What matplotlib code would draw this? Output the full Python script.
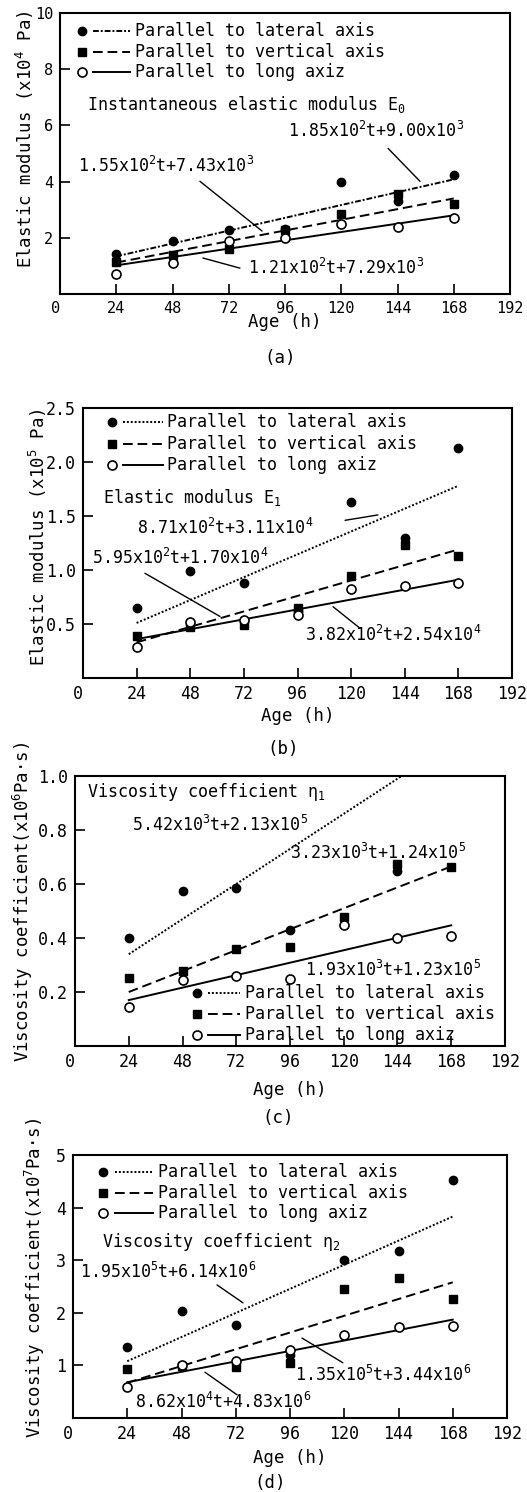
import matplotlib
matplotlib.use('Agg')
import numpy as np
import matplotlib.pyplot as plt

plt.rcParams['font.family'] = 'DejaVu Sans Mono'
plt.rcParams['mathtext.fontset'] = 'custom'
plt.rcParams['mathtext.rm'] = 'DejaVu Sans Mono'
plt.rcParams['mathtext.it'] = 'DejaVu Sans Mono'
plt.rcParams['mathtext.bf'] = 'DejaVu Sans Mono'

ages = [24, 48, 72, 96, 120, 144, 168]
fit_t = [24, 168]
x_ticks = [0, 24, 48, 72, 96, 120, 144, 168, 192]
series_names = ['Parallel to lateral axis', 'Parallel to vertical axis', 'Parallel to long axiz']

# (a) instantaneous elastic modulus E0 (x10^4 Pa)
a_lateral = [1.44, 1.90, 2.26, 2.30, 3.98, 3.30, 4.22]
a_vertical = [1.15, 1.38, 1.60, 2.27, 2.83, 3.56, 3.22]
a_long = [0.72, 1.11, 1.90, 1.98, 2.50, 2.39, 2.70]
a_fit_lateral = [1.34, 4.08]
a_fit_vertical = [1.12, 3.40]
a_fit_long = [1.02, 2.80]

# (b) elastic modulus E1 (x10^5 Pa)
b_lateral = [0.65, 0.99, 0.88, 0.62, 1.63, 1.30, 2.13]
b_vertical = [0.39, 0.47, 0.49, 0.65, 0.94, 1.23, 1.13]
b_long = [0.29, 0.52, 0.54, 0.58, 0.82, 0.85, 0.88]
b_fit_lateral = [0.51, 1.78]
b_fit_vertical = [0.33, 1.19]
b_fit_long = [0.36, 0.91]

# (c) viscosity coefficient eta1 (x10^6 Pa.s)
c_lateral = [0.40, 0.575, 0.586, 0.43, np.nan, 0.65, np.nan]
c_vertical = [0.252, 0.278, 0.361, 0.367, 0.479, 0.674, 0.664]
c_long = [0.145, 0.246, 0.259, 0.25, 0.45, 0.40, 0.407]
c_fit_lateral = [0.34, 1.12]
c_fit_vertical = [0.20, 0.665]
c_fit_long = [0.17, 0.447]

# (d) viscosity coefficient eta2 (x10^7 Pa.s)
d_lateral = [1.35, 2.03, 1.77, 1.20, 3.01, 3.17, 4.53]
d_vertical = [0.94, 0.99, 0.97, 1.04, 2.46, 2.66, 2.27]
d_long = [0.58, 1.01, 1.08, 1.30, 1.57, 1.73, 1.75]
d_fit_lateral = [1.08, 3.83]
d_fit_vertical = [0.67, 2.58]
d_fit_long = [0.68, 1.87]

marker_styles = [
    dict(marker='o', ms=6, mfc='black', mec='black'),
    dict(marker='s', ms=5.5, mfc='black', mec='black'),
    dict(marker='o', ms=6.5, mfc='white', mec='black', mew=1.2),
]


def draw_panel(rect, data, fits, line_styles, ylim, yticks, yfmt, ylabel, ylabel_pos,
               xlabel_y, key, texts, leaders, tick_size):
    ax = fig.add_axes(rect)
    for vals, fit, ls, ms in zip(data, fits, line_styles, marker_styles):
        ax.plot(fit_t, fit, color='black', ls=ls, lw=1.4, zorder=2)
        ax.plot(ages, vals, ls='none', zorder=3, **ms)

    ax.set_xlim(0, 192)
    ax.set_ylim(*ylim)
    ax.set_xticks(x_ticks)
    ax.set_yticks(yticks)
    ax.set_yticklabels([yfmt % v for v in yticks])
    ax.tick_params(direction='in', length=7, width=1.2, labelsize=tick_size, pad=5)
    xt = ax.xaxis.get_major_ticks()
    xt[0].tick1line.set_visible(False)
    xt[-1].tick1line.set_visible(False)
    ax.get_xticklabels()[0].set_horizontalalignment('right')
    for s in ax.spines.values():
        s.set_linewidth(1.5)

    ax.set_ylabel(ylabel, fontsize=12.5)
    ax.yaxis.set_label_coords(*ylabel_pos)
    ax.yaxis.label.set_va('center')
    ax.set_xlabel('Age (h)', fontsize=12.5)
    ax.xaxis.set_label_coords(0.5, xlabel_y)
    ax.xaxis.label.set_va('center')

    xm, xl0, xl1, xtx, ys = key
    for name, ls, ms, y in zip(series_names, line_styles, marker_styles, ys):
        ax.plot([xm], [y], transform=ax.transAxes, ls='none', clip_on=False, **ms)
        ax.plot([xl0, xl1], [y, y], transform=ax.transAxes, color='black', ls=ls, lw=1.4)
        ax.text(xtx, y, name, transform=ax.transAxes, fontsize=12, va='center', ha='left')

    for s, x, y in texts:
        ax.text(x, y, s, fontsize=12, va='center', ha='left')
    for p0, p1 in leaders:
        ax.annotate('', xy=p1, xytext=p0,
                    arrowprops=dict(arrowstyle='-', lw=1.0, color='black', shrinkA=0, shrinkB=0))
    return ax


fig = plt.figure(figsize=(5.27, 14.92), dpi=100)
H = 1492.0
W = 527.0


def rect(l, r, t, b):
    return [l / W, 1 - b / H, (r - l) / W, (b - t) / H]


draw_panel(rect(60, 510, 13, 294),
           [a_lateral, a_vertical, a_long],
           [a_fit_lateral, a_fit_vertical, a_fit_long],
           [(0, (3, 1, 1, 1)), (0, (5, 2.5)), '-'],
           (0, 10), [2, 4, 6, 8, 10], '%d',
           'Elastic modulus (x10$^4$ Pa)', (-0.078, 0.55), -0.0996,
           (0.049, 0.073, 0.156, 0.167, [0.936, 0.862, 0.791]),
           [('Instantaneous elastic modulus E$_0$', 11.5, 6.74),
            ('1.85x10$^2$t+9.00x10$^3$', 97.3, 5.79),
            ('1.55x10$^2$t+7.43x10$^3$', 7.7, 4.54),
            ('1.21x10$^2$t+7.29x10$^3$', 80.2, 0.92)],
           [((140, 5.18), (153.6, 4.01)), ((59.7, 4.01), (86.2, 2.24)), ((76.8, 0.92), (61, 1.28))],
           11)

draw_panel(rect(83, 512, 408, 678),
           [b_lateral, b_vertical, b_long],
           [b_fit_lateral, b_fit_vertical, b_fit_long],
           [(0, (1, 1)), (0, (5, 2.5)), '-'],
           (0, 2.5), [0.5, 1.0, 1.5, 2.0, 2.5], '%.1f',
           'Elastic modulus (x10$^5$ Pa)', (-0.105, 0.52), -0.14,
           (0.068, 0.093, 0.186, 0.196, [0.948, 0.867, 0.789]),
           [('Elastic modulus E$_1$', 9.0, 1.67),
            ('8.71x10$^2$t+3.11x10$^4$', 24.2, 1.39),
            ('5.95x10$^2$t+1.70x10$^4$', 4.0, 1.11),
            ('3.82x10$^2$t+2.54x10$^4$', 99.4, 0.40)],
           [((117.3, 1.46), (132, 1.51)), ((27.7, 0.97), (61.3, 0.57)), ((124, 0.46), (111.9, 0.66))],
           12)

draw_panel(rect(75, 505, 776, 1046),
           [c_lateral, c_vertical, c_long],
           [c_fit_lateral, c_fit_vertical, c_fit_long],
           [(0, (1, 1)), (0, (5, 2.5)), '-'],
           (0, 1.0), [0.2, 0.4, 0.6, 0.8, 1.0], '%.1f',
           'Viscosity coefficient(x10$^6$Pa·s)', (-0.121, 0.533), -0.163,
           (0.284, 0.309, 0.384, 0.395, [0.196, 0.119, 0.041]),
           [('Viscosity coefficient η$_1$', 5.4, 0.94),
            ('5.42x10$^3$t+2.13x10$^5$', 25.4, 0.82),
            ('3.23x10$^3$t+1.24x10$^5$', 96, 0.715),
            ('1.93x10$^3$t+1.23x10$^5$', 102.7, 0.28)],
           [],
           12)

draw_panel(rect(73, 507, 1155, 1418),
           [d_lateral, d_vertical, d_long],
           [d_fit_lateral, d_fit_vertical, d_fit_long],
           [(0, (1, 1)), (0, (5, 2.5)), '-'],
           (0, 5), [1, 2, 3, 4, 5], '%d',
           'Viscosity coefficient(x10$^7$Pa·s)', (-0.0876, 0.532), -0.152,
           (0.069, 0.097, 0.184, 0.196, [0.935, 0.856, 0.779]),
           [('Viscosity coefficient η$_2$', 12.8, 3.35),
            ('1.95x10$^5$t+6.14x10$^6$', 3.1, 2.78),
            ('1.35x10$^5$t+3.44x10$^6$', 98.2, 0.82),
            ('8.62x10$^4$t+4.83x10$^6$', 27.4, 0.30)],
           [((63.7, 2.53), (75.2, 2.19)), ((119.4, 1.05), (101.3, 1.52)), ((72.6, 0.44), (58.4, 0.87))],
           12)

for lab, x, y in [('(a)', 280, 358), ('(b)', 283, 749), ('(c)', 278, 1118), ('(d)', 270, 1483)]:
    fig.text(x / W, 1 - y / H, lab, fontsize=12.5, ha='center', va='center')

fig.savefig('out.png', dpi=100)
